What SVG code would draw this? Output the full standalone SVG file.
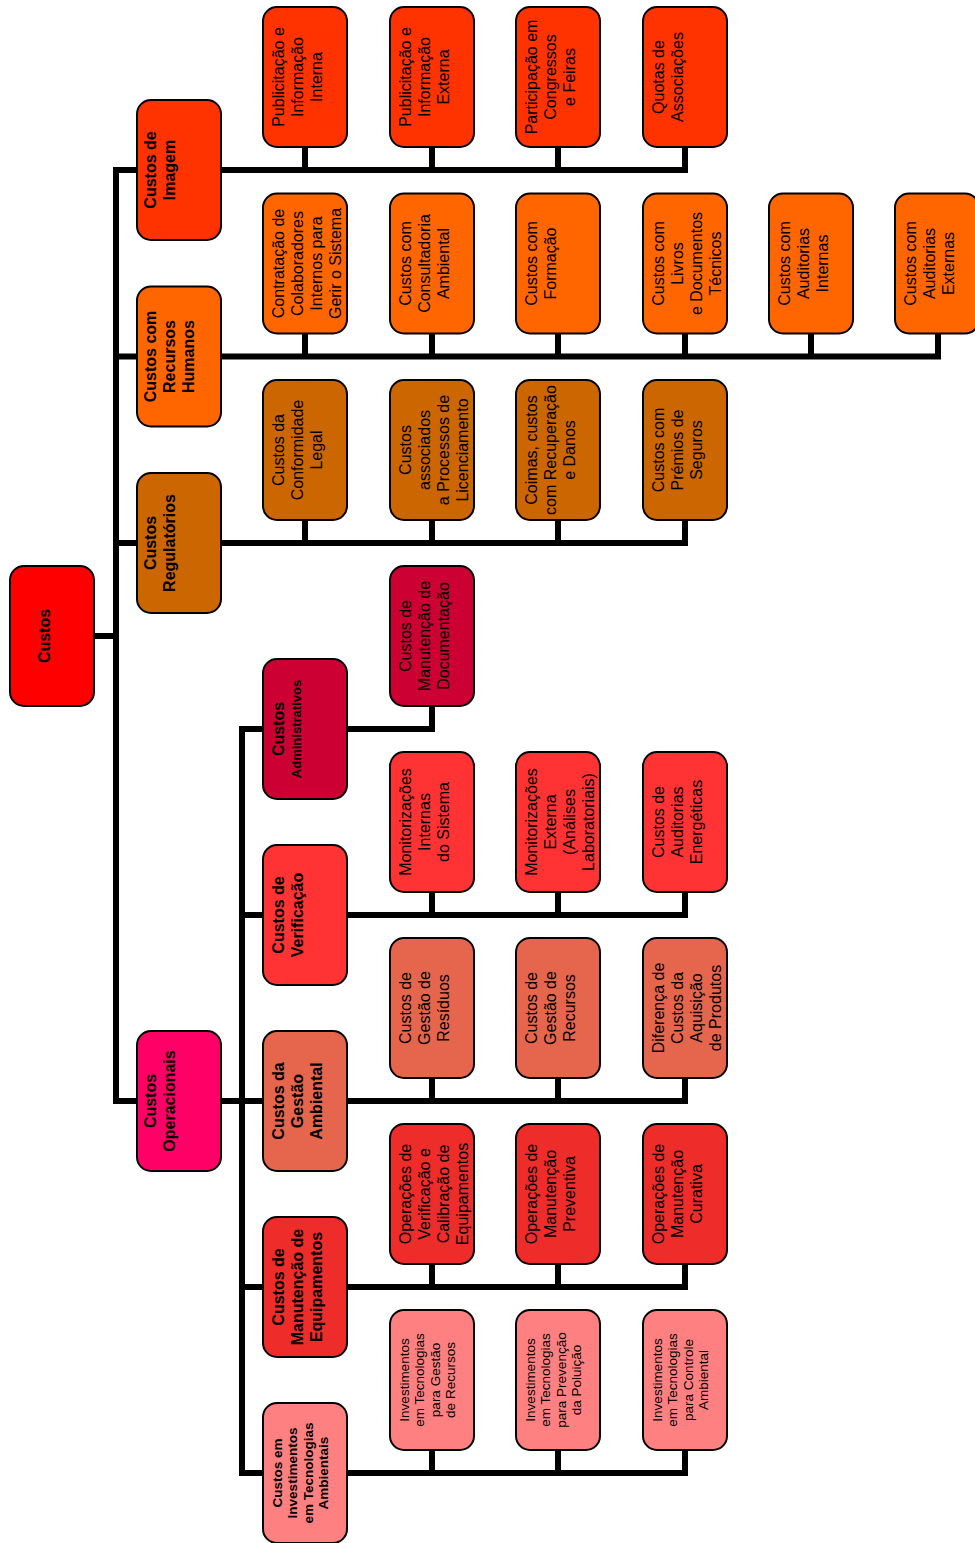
<svg xmlns="http://www.w3.org/2000/svg" width="975" height="1543" viewBox="0 0 975 1543">
<style>
rect{stroke:#000;stroke-width:2}
text{font-family:"Liberation Sans",Arial,sans-serif;font-size:16px;fill:#000;text-anchor:middle}
.b{font-weight:bold}
.s{font-size:13.5px}
.s13{font-size:13px}
.c path{fill:none;stroke:#000;stroke-width:6;stroke-linejoin:miter;stroke-linecap:butt}
.root{fill:#FF0000}.img{fill:#FF3300}.rh{fill:#FF6600}.reg{fill:#CC6600}.adm{fill:#CC0033}.op{fill:#FF0066}.ver{fill:#FF3333}.ges{fill:#E6664D}.eq{fill:#EE2C2A}.inv{fill:#FF8080}
</style>
<g class="c" id="connectors">
<path d="M94 636H116"/>
<path d="M137 170H116V1101H137"/>
<path d="M116 356.5H137M116 543H137"/>
<path d="M221 170H685V147M305 147V170M432 147V170M558 147V170"/>
<path d="M221 356.5H938V333.5M305 333.5V356.5M432 333.5V356.5M558 333.5V356.5M685 333.5V356.5M811 333.5V356.5"/>
<path d="M221 543H685V520M305 520V543M432 520V543M558 520V543"/>
<path d="M221 1101H263"/>
<path d="M263 729H242V1473H263"/>
<path d="M242 915H263M242 1287H263"/>
<path d="M347 729H432V706"/>
<path d="M347 915H685V892M432 892V915M558 892V915"/>
<path d="M347 1101H685V1078M432 1078V1101M558 1078V1101"/>
<path d="M347 1287H685V1264M432 1264V1287M558 1264V1287"/>
<path d="M347 1473H685V1450M432 1450V1473M558 1450V1473"/>
</g>
<g id="n-custos"><rect class="root" x="10" y="566" width="84" height="140" rx="14"/><text class="b" transform="translate(10,636) rotate(-90)"><tspan x="0" y="39.5">Custos</tspan></text></g>

<g id="n-imagem"><rect class="img" x="137" y="100" width="84" height="140" rx="14"/><text class="b" transform="translate(137,170) rotate(-90)"><tspan x="0" y="19">Custos de</tspan><tspan x="0" y="38">Imagem</tspan></text></g>
<g id="n-rh"><rect class="rh" x="137" y="286.5" width="84" height="140" rx="14"/><text class="b" transform="translate(137,356.5) rotate(-90)"><tspan x="0" y="19">Custos com</tspan><tspan x="0" y="38">Recursos</tspan><tspan x="0" y="57">Humanos</tspan></text></g>
<g id="n-reg"><rect class="reg" x="137" y="473" width="84" height="140" rx="14"/><text class="b" transform="translate(137,543) rotate(-90)"><tspan x="0" y="19">Custos</tspan><tspan x="0" y="38">Regulatórios</tspan></text></g>
<g id="n-op"><rect class="op" x="137" y="1031" width="84" height="140" rx="14"/><text class="b" transform="translate(137,1101) rotate(-90)"><tspan x="0" y="19">Custos</tspan><tspan x="0" y="38">Operacionais</tspan></text></g>

<g id="n-img1"><rect class="img" x="263" y="7" width="84" height="140" rx="14"/><text transform="translate(263,77) rotate(-90)"><tspan x="0" y="20.5">Publicitação e</tspan><tspan x="0" y="39.5">Informação</tspan><tspan x="0" y="58.5">Interna</tspan></text></g>
<g id="n-img2"><rect class="img" x="390" y="7" width="84" height="140" rx="14"/><text transform="translate(390,77) rotate(-90)"><tspan x="0" y="20.5">Publicitação e</tspan><tspan x="0" y="39.5">Informação</tspan><tspan x="0" y="58.5">Externa</tspan></text></g>
<g id="n-img3"><rect class="img" x="516" y="7" width="84" height="140" rx="14"/><text transform="translate(516,77) rotate(-90)"><tspan x="0" y="20.5">Participação em</tspan><tspan x="0" y="39.5">Congressos</tspan><tspan x="0" y="58.5">e Feiras</tspan></text></g>
<g id="n-img4"><rect class="img" x="643" y="7" width="84" height="140" rx="14"/><text transform="translate(643,77) rotate(-90)"><tspan x="0" y="20.5">Quotas de</tspan><tspan x="0" y="39.5">Associações</tspan></text></g>

<g id="n-rh1"><rect class="rh" x="263" y="193.5" width="84" height="140" rx="14"/><text transform="translate(263,263.5) rotate(-90)"><tspan x="0" y="20.5">Contratação de</tspan><tspan x="0" y="39.5">Colaboradores</tspan><tspan x="0" y="58.5">Internos para</tspan><tspan x="0" y="77.5">Gerir o Sistema</tspan></text></g>
<g id="n-rh2"><rect class="rh" x="390" y="193.5" width="84" height="140" rx="14"/><text transform="translate(390,263.5) rotate(-90)"><tspan x="0" y="20.5">Custos com</tspan><tspan x="0" y="39.5">Consultadoria</tspan><tspan x="0" y="58.5">Ambiental</tspan></text></g>
<g id="n-rh3"><rect class="rh" x="516" y="193.5" width="84" height="140" rx="14"/><text transform="translate(516,263.5) rotate(-90)"><tspan x="0" y="20.5">Custos com</tspan><tspan x="0" y="39.5">Formação</tspan></text></g>
<g id="n-rh4"><rect class="rh" x="643" y="193.5" width="84" height="140" rx="14"/><text transform="translate(643,263.5) rotate(-90)"><tspan x="0" y="20.5">Custos com</tspan><tspan x="0" y="39.5">Livros</tspan><tspan x="0" y="58.5">e Documentos</tspan><tspan x="0" y="77.5">Técnicos</tspan></text></g>
<g id="n-rh5"><rect class="rh" x="769" y="193.5" width="84" height="140" rx="14"/><text transform="translate(769,263.5) rotate(-90)"><tspan x="0" y="20.5">Custos com</tspan><tspan x="0" y="39.5">Auditorias</tspan><tspan x="0" y="58.5">Internas</tspan></text></g>
<g id="n-rh6"><rect class="rh" x="895" y="193.5" width="84" height="140" rx="14"/><text transform="translate(895,263.5) rotate(-90)"><tspan x="0" y="20.5">Custos com</tspan><tspan x="0" y="39.5">Auditorias</tspan><tspan x="0" y="58.5">Externas</tspan></text></g>

<g id="n-reg1"><rect class="reg" x="263" y="380" width="84" height="140" rx="14"/><text transform="translate(263,450) rotate(-90)"><tspan x="0" y="20.5">Custos da</tspan><tspan x="0" y="39.5">Conformidade</tspan><tspan x="0" y="58.5">Legal</tspan></text></g>
<g id="n-reg2"><rect class="reg" x="390" y="380" width="84" height="140" rx="14"/><text transform="translate(390,450) rotate(-90)"><tspan x="0" y="20.5">Custos</tspan><tspan x="0" y="39.5">associados</tspan><tspan x="0" y="58.5">a Processos de</tspan><tspan x="0" y="77.5">Licenciamento</tspan></text></g>
<g id="n-reg3"><rect class="reg" x="516" y="380" width="84" height="140" rx="14"/><text transform="translate(516,450) rotate(-90)"><tspan x="0" y="20.5">Coimas, custos</tspan><tspan x="0" y="39.5">com Recuperação</tspan><tspan x="0" y="58.5">e Danos</tspan></text></g>
<g id="n-reg4"><rect class="reg" x="643" y="380" width="84" height="140" rx="14"/><text transform="translate(643,450) rotate(-90)"><tspan x="0" y="20.5">Custos com</tspan><tspan x="0" y="39.5">Prémios de</tspan><tspan x="0" y="58.5">Seguros</tspan></text></g>

<g id="n-adm"><rect class="adm" x="263" y="659" width="84" height="140" rx="14"/><text class="b" transform="translate(263,729) rotate(-90)"><tspan x="0" y="20.5">Custos</tspan><tspan class="s13" x="0" y="37.5">Administrativos</tspan></text></g>
<g id="n-adm1"><rect class="adm" x="390" y="566" width="84" height="140" rx="14"/><text transform="translate(390,636) rotate(-90)"><tspan x="0" y="20.5">Custos de</tspan><tspan x="0" y="39.5">Manutenção de</tspan><tspan x="0" y="58.5">Documentação</tspan></text></g>

<g id="n-ver"><rect class="ver" x="263" y="845" width="84" height="140" rx="14"/><text class="b" transform="translate(263,915) rotate(-90)"><tspan x="0" y="20.5">Custos de</tspan><tspan x="0" y="39.5">Verificação</tspan></text></g>
<g id="n-ver1"><rect class="ver" x="390" y="752" width="84" height="140" rx="14"/><text transform="translate(390,822) rotate(-90)"><tspan x="0" y="20.5">Monitorizações</tspan><tspan x="0" y="39.5">Internas</tspan><tspan x="0" y="58.5">do Sistema</tspan></text></g>
<g id="n-ver2"><rect class="ver" x="516" y="752" width="84" height="140" rx="14"/><text transform="translate(516,822) rotate(-90)"><tspan x="0" y="20.5">Monitorizações</tspan><tspan x="0" y="39.5">Externa</tspan><tspan x="0" y="58.5">(Análises</tspan><tspan x="0" y="77.5">Laboratoriais)</tspan></text></g>
<g id="n-ver3"><rect class="ver" x="643" y="752" width="84" height="140" rx="14"/><text transform="translate(643,822) rotate(-90)"><tspan x="0" y="20.5">Custos de</tspan><tspan x="0" y="39.5">Auditorias</tspan><tspan x="0" y="58.5">Energéticas</tspan></text></g>

<g id="n-ges"><rect class="ges" x="263" y="1031" width="84" height="140" rx="14"/><text class="b" transform="translate(263,1101) rotate(-90)"><tspan x="0" y="20.5">Custos da</tspan><tspan x="0" y="39.5">Gestão</tspan><tspan x="0" y="58.5">Ambiental</tspan></text></g>
<g id="n-ges1"><rect class="ges" x="390" y="938" width="84" height="140" rx="14"/><text transform="translate(390,1008) rotate(-90)"><tspan x="0" y="20.5">Custos de</tspan><tspan x="0" y="39.5">Gestão de</tspan><tspan x="0" y="58.5">Resíduos</tspan></text></g>
<g id="n-ges2"><rect class="ges" x="516" y="938" width="84" height="140" rx="14"/><text transform="translate(516,1008) rotate(-90)"><tspan x="0" y="20.5">Custos de</tspan><tspan x="0" y="39.5">Gestão de</tspan><tspan x="0" y="58.5">Recursos</tspan></text></g>
<g id="n-ges3"><rect class="ges" x="643" y="938" width="84" height="140" rx="14"/><text transform="translate(643,1008) rotate(-90)"><tspan x="0" y="20.5">Diferença de</tspan><tspan x="0" y="39.5">Custos da</tspan><tspan x="0" y="58.5">Aquisição</tspan><tspan x="0" y="77.5">de Produtos</tspan></text></g>

<g id="n-eq"><rect class="eq" x="263" y="1217" width="84" height="140" rx="14"/><text class="b" transform="translate(263,1287) rotate(-90)"><tspan x="0" y="20.5">Custos de</tspan><tspan x="0" y="39.5">Manutenção de</tspan><tspan x="0" y="58.5">Equipamentos</tspan></text></g>
<g id="n-eq1"><rect class="eq" x="390" y="1124" width="84" height="140" rx="14"/><text transform="translate(390,1194) rotate(-90)"><tspan x="0" y="20.5">Operações de</tspan><tspan x="0" y="39.5">Verificação e</tspan><tspan x="0" y="58.5">Calibração de</tspan><tspan x="0" y="77.5">Equipamentos</tspan></text></g>
<g id="n-eq2"><rect class="eq" x="516" y="1124" width="84" height="140" rx="14"/><text transform="translate(516,1194) rotate(-90)"><tspan x="0" y="20.5">Operações de</tspan><tspan x="0" y="39.5">Manutenção</tspan><tspan x="0" y="58.5">Preventiva</tspan></text></g>
<g id="n-eq3"><rect class="eq" x="643" y="1124" width="84" height="140" rx="14"/><text transform="translate(643,1194) rotate(-90)"><tspan x="0" y="20.5">Operações de</tspan><tspan x="0" y="39.5">Manutenção</tspan><tspan x="0" y="58.5">Curativa</tspan></text></g>

<g id="n-inv"><rect class="inv" x="263" y="1403" width="84" height="140" rx="14"/><text class="b s" transform="translate(263,1473) rotate(-90)"><tspan x="0" y="18.5">Custos em</tspan><tspan x="0" y="34">Investimentos</tspan><tspan x="0" y="49.5">em Tecnologias</tspan><tspan x="0" y="65">Ambientais</tspan></text></g>
<g id="n-inv1"><rect class="inv" x="390" y="1310" width="84" height="140" rx="14"/><text class="s" transform="translate(390,1380) rotate(-90)"><tspan x="0" y="18.5">Investimentos</tspan><tspan x="0" y="34">em Tecnologias</tspan><tspan x="0" y="49.5">para Gestão</tspan><tspan x="0" y="65">de Recursos</tspan></text></g>
<g id="n-inv2"><rect class="inv" x="516" y="1310" width="84" height="140" rx="14"/><text class="s" transform="translate(516,1380) rotate(-90)"><tspan x="0" y="18.5">Investimentos</tspan><tspan x="0" y="34">em Tecnologias</tspan><tspan x="0" y="49.5">para Prevenção</tspan><tspan x="0" y="65">da Poluição</tspan></text></g>
<g id="n-inv3"><rect class="inv" x="643" y="1310" width="84" height="140" rx="14"/><text class="s" transform="translate(643,1380) rotate(-90)"><tspan x="0" y="18.5">Investimentos</tspan><tspan x="0" y="34">em Tecnologias</tspan><tspan x="0" y="49.5">para Controle</tspan><tspan x="0" y="65">Ambiental</tspan></text></g>
</svg>
